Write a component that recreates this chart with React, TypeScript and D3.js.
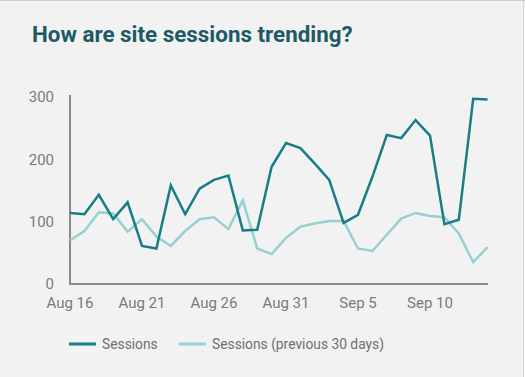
import React from "react";
import * as d3 from "d3";

const startDate = new Date(2020, 7, 16);
const sessions = [114, 112, 143, 104, 131, 61, 57, 158, 112, 153, 167, 174, 86, 87, 188, 226, 218, 193, 167, 98, 111, 172, 239, 234, 263, 238, 96, 103, 297, 296];
const previous = [70, 85, 115, 113, 84, 104, 76, 61, 85, 104, 107, 88, 134, 57, 48, 74, 92, 97, 101, 101, 57, 53, 79, 105, 114, 109, 107, 81, 35, 59];
const yTicks = [0, 100, 200, 300];
const xTickOffsets = [0, 5, 10, 15, 20, 25];
const seriesNames = ["Sessions", "Sessions (previous 30 days)"];
const colors = ["#187d85", "#96d0d1"];

const W = 525, H = 377;

export default function App() {
  const dates = sessions.map((_, i) => d3.timeDay.offset(startDate, i));
  const x = d3.scaleTime().domain([dates[0], dates[dates.length - 1]]).range([70, 487.6]);
  const y = d3.scaleLinear().domain([0, 300]).range([284, 97]);
  const line = d3.line<number>().x((_, i) => x(dates[i])).y((d) => y(d));
  const fmt = d3.timeFormat("%b %-d");
  const font = "Roboto, sans-serif";
  return (
    <div style={{ position: "fixed", left: 0, top: 0 }}>
      <svg width={W} height={H} style={{ display: "block" }}>
        <rect x={0} y={0} width={W} height={H} fill="#f2f2f2" />
        <line x1={0} x2={W} y1={0.5} y2={0.5} stroke="#cfcfcf" />
        <line x1={523.5} x2={523.5} y1={0} y2={H} stroke="#d6d6d6" />
        <text x={32} y={42} fill="#1d5a66" fontFamily={font} fontWeight={700} fontSize={22.4}>
          How are site sessions trending?
        </text>
        {yTicks.map((t) => (
          <text key={t} x={54} y={y(t)} dy="0.35em" textAnchor="end" fill="#7a7a7a" fontFamily={font} fontSize={15}>
            {t}
          </text>
        ))}
        {xTickOffsets.map((o) => {
          const d = d3.timeDay.offset(startDate, o);
          return (
            <text key={o} x={x(d)} y={303} dy="0.35em" textAnchor="middle" fill="#7a7a7a" fontFamily={font} fontSize={15}>
              {fmt(d)}
            </text>
          );
        })}
        <line x1={70} x2={70} y1={95} y2={285} stroke="#8a8a8a" strokeWidth={2} />
        <line x1={69} x2={488} y1={284} y2={284} stroke="#8a8a8a" strokeWidth={2} />
        <path d={line(previous) || ""} fill="none" stroke={colors[1]} strokeWidth={2.5} strokeLinejoin="miter" />
        <path d={line(sessions) || ""} fill="none" stroke={colors[0]} strokeWidth={2.5} strokeLinejoin="miter" />
        <g fontFamily={font} fontSize={13.8} fill="#6f6f6f">
          <line x1={69} x2={96} y1={344} y2={344} stroke={colors[0]} strokeWidth={3} />
          <text x={102} y={344} dy="0.35em">{seriesNames[0]}</text>
          <line x1={179} x2={206} y1={344} y2={344} stroke={colors[1]} strokeWidth={3} />
          <text x={212} y={344} dy="0.35em">{seriesNames[1]}</text>
        </g>
      </svg>
    </div>
  );
}
